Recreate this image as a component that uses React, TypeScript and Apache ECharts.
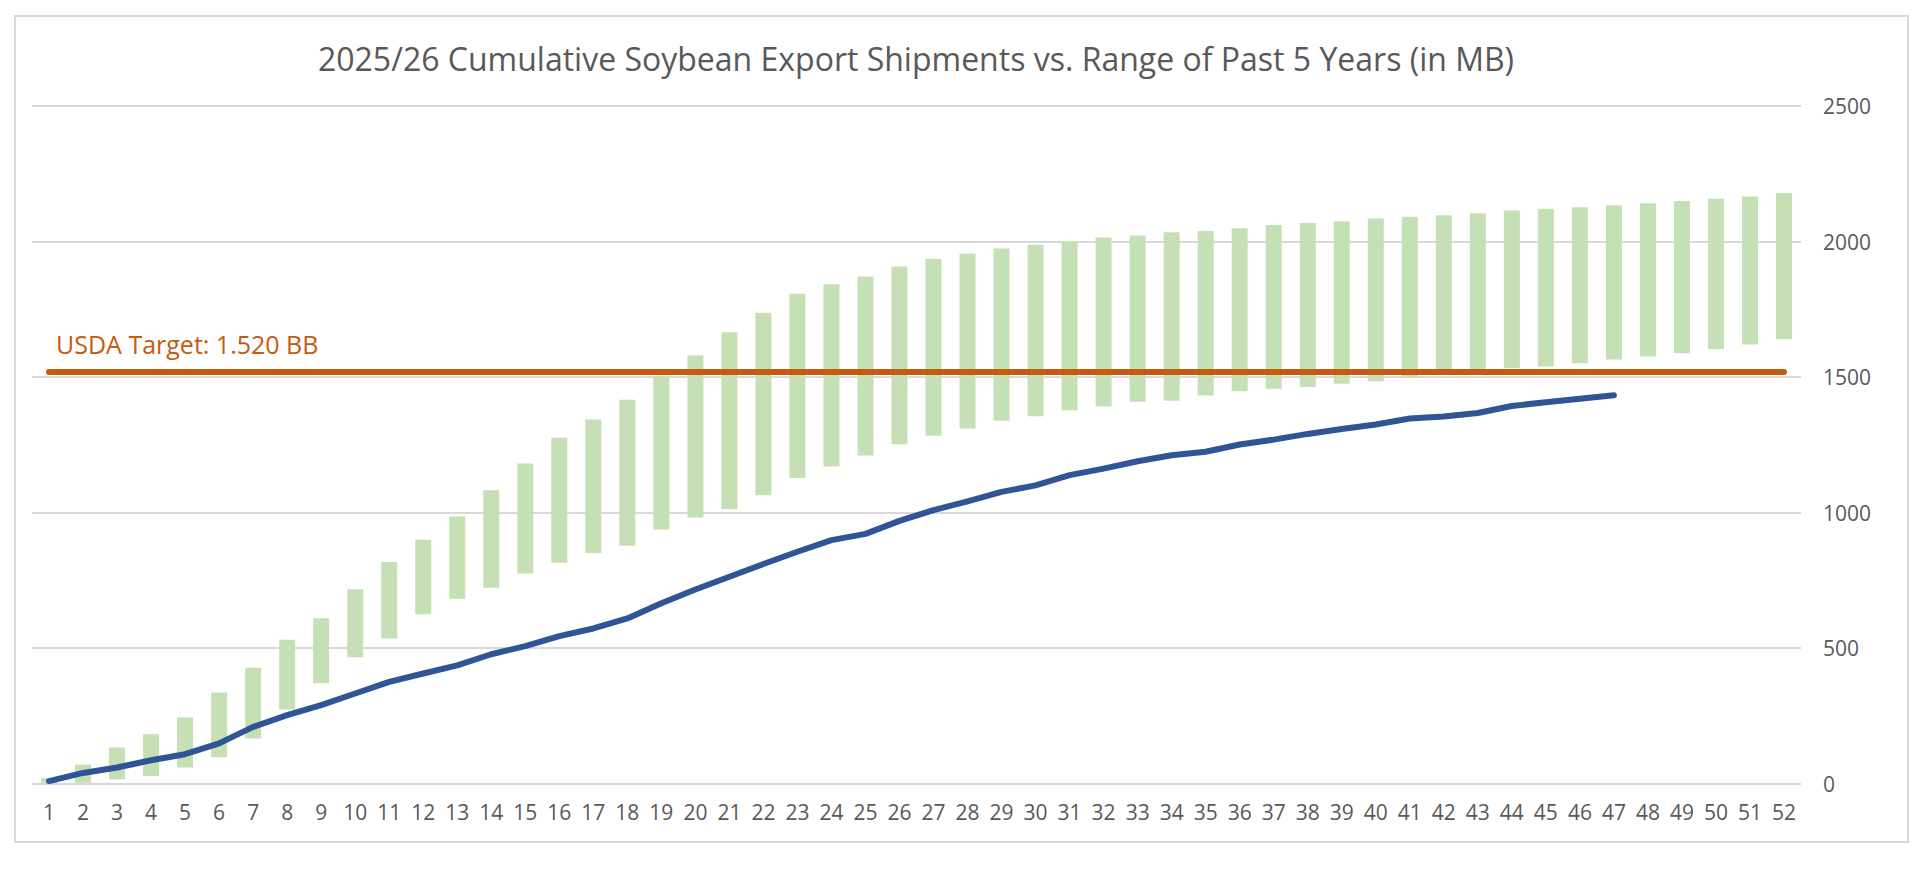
import React, { useEffect, useRef } from "react";
import * as echarts from "echarts";

const weeks: string[] = Array.from({ length: 52 }, (_, i) => String(i + 1));

const rangeLow: number[] = [
  0, 3, 15, 28, 59, 97, 166, 273, 370, 466,
  535, 625, 682, 722, 775, 815, 851, 877, 937, 982,
  1013, 1064, 1127, 1170, 1210, 1252, 1283, 1310, 1339, 1355,
  1377, 1392, 1409, 1412, 1432, 1447, 1457, 1463, 1475, 1484,
  1498, 1515, 1525, 1532, 1539, 1551, 1565, 1576, 1588, 1603, 1620, 1639,
];

const rangeHigh: number[] = [
  20, 70, 133, 182, 244, 336, 427, 530, 610, 717,
  817, 899, 985, 1082, 1181, 1276, 1343, 1416, 1505, 1579,
  1665, 1737, 1807, 1842, 1871, 1908, 1935, 1955, 1974, 1988,
  2001, 2015, 2022, 2034, 2039, 2049, 2061, 2068, 2075, 2085,
  2091, 2097, 2104, 2114, 2121, 2126, 2134, 2141, 2149, 2158, 2166, 2179,
];

const current: number[] = [
  9, 39, 59, 86, 108, 148, 209, 252, 289, 332,
  375, 406, 436, 477, 507, 544, 572, 609, 665, 716,
  763, 810, 855, 898, 921, 969, 1009, 1041, 1076, 1100,
  1138, 1162, 1189, 1211, 1224, 1251, 1269, 1290, 1308, 1325,
  1347, 1354, 1367, 1393, 1407, 1420, 1433,
];

const usdaTarget = 1520;
const targetLabel = "USDA Target: 1.520 BB";
const titleText = "2025/26 Cumulative Soybean Export Shipments vs. Range of Past 5 Years (in MB)";
const yTicks = { min: 0, max: 2500, interval: 500 };

const FONT = "'Open Sans', 'Noto Sans', sans-serif";
const TEXT_COLOR = "#595959";

export default function App() {
  const ref = useRef<HTMLDivElement>(null);

  useEffect(() => {
    if (!ref.current) return;
    const chart = echarts.init(ref.current, undefined, { renderer: "svg" });
    const rangeSize = rangeHigh.map((h, i) => h - rangeLow[i]);

    chart.setOption({
      animation: false,
      backgroundColor: "#ffffff",
      graphic: [
        {
          type: "rect",
          shape: { x: 15, y: 16, width: 1893, height: 826 },
          style: { fill: "none", stroke: "#d9d9d9", lineWidth: 2 },
          z: 0,
        },
        {
          type: "text",
          x: 916,
          y: 58,
          style: {
            text: titleText,
            textAlign: "center",
            textVerticalAlign: "middle",
            fontFamily: FONT,
            fontSize: 32,
            fill: TEXT_COLOR,
          },
        },
      ],
      grid: { left: 32, right: 119, top: 106, bottom: 87.5, containLabel: false },
      xAxis: {
        type: "category",
        data: weeks,
        boundaryGap: true,
        axisLine: { show: false },
        axisTick: { show: false },
        axisLabel: {
          color: TEXT_COLOR,
          fontFamily: FONT,
          fontSize: 21,
          margin: 18,
          interval: 0,
        },
        splitLine: { show: false },
      },
      yAxis: {
        type: "value",
        position: "right",
        min: yTicks.min,
        max: yTicks.max,
        interval: yTicks.interval,
        axisLine: { show: false },
        axisTick: { show: false },
        axisLabel: {
          color: TEXT_COLOR,
          fontFamily: FONT,
          fontSize: 21,
          margin: 22,
          formatter: (v: number) => String(v),
        },
        splitLine: { lineStyle: { color: "#d9d9d9", width: 2 } },
      },
      series: [
        {
          name: "base",
          type: "bar",
          stack: "range",
          data: rangeLow,
          barWidth: 16,
          itemStyle: { color: "transparent" },
          silent: true,
          z: 2,
        },
        {
          name: "Range of Past 5 Years",
          type: "bar",
          stack: "range",
          data: rangeSize,
          barWidth: 16,
          itemStyle: { color: "#c5e0b4" },
          z: 2,
        },
        {
          name: "USDA Target",
          type: "line",
          data: [],
          z: 3,
          markLine: {
            silent: true,
            symbol: ["none", "none"],
            lineStyle: { color: "#c55a11", width: 6, type: "solid", cap: "round" },
            label: {
              show: true,
              position: "insideStartTop",
              formatter: targetLabel,
              color: "#c55a11",
              fontFamily: FONT,
              fontSize: 25,
              distance: [7, 15],
            },
            data: [
              [
                { coord: [weeks[0], usdaTarget] },
                { coord: [weeks[weeks.length - 1], usdaTarget] },
              ],
            ],
          },
        },
        {
          name: "2025/26",
          type: "line",
          data: current,
          symbol: "none",
          z: 4,
          lineStyle: { color: "#2f5597", width: 6, cap: "round", join: "round" },
        },
      ],
    });

    return () => chart.dispose();
  }, []);

  return (
    <div
      ref={ref}
      style={{ position: "absolute", left: 0, top: 0, width: 1920, height: 871 }}
    />
  );
}
